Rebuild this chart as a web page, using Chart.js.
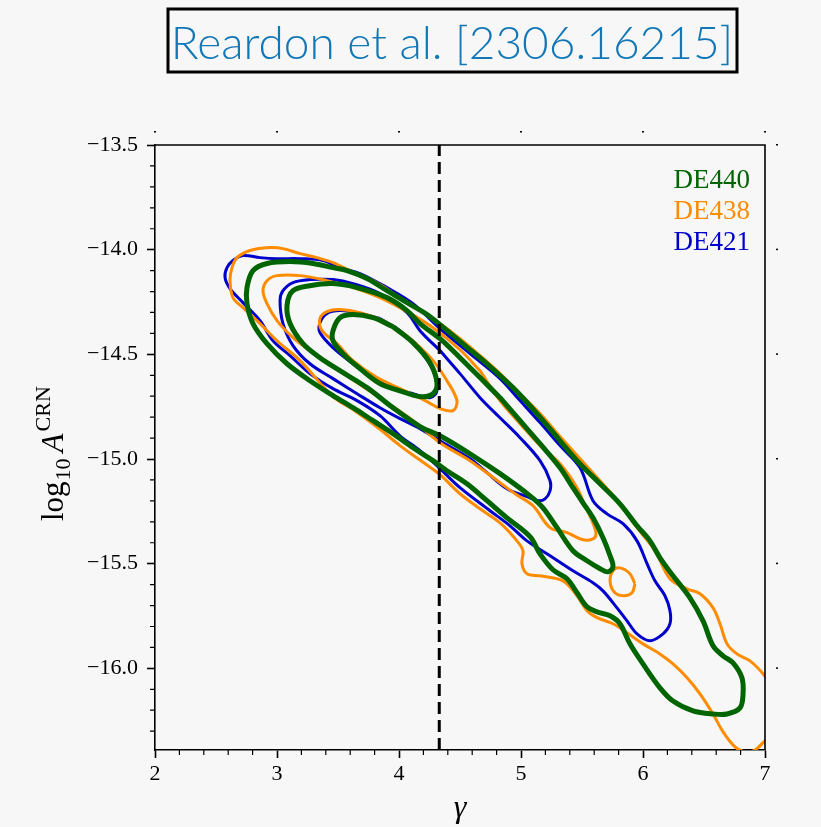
<!DOCTYPE html>
<html>
<head>
<meta charset="utf-8">
<script src="https://cdn.jsdelivr.net/npm/chart.js@4.4.1/dist/chart.umd.min.js"></script>
<style>
  body { margin: 0; background: #f7f7f7; }
  canvas { display: block; }
</style>
</head>
<body>
<canvas id="chart" width="821" height="827"></canvas>
<script>
// axis ranges and ticks
const xMin = 2, xMax = 7;
const yMin = -16.39, yMax = -13.5;
const xTicks = [2, 3, 4, 5, 6, 7];
const yTicks = [-16.0, -15.5, -15.0, -14.5, -14.0, -13.5];
const legendLabels = ['DE440', 'DE438', 'DE421'];
const refGamma = 4.33;

// contours, [gamma, log10 A]
const de440Outer = [[2.754,-14.181],[2.803,-14.100],[2.918,-14.066],[3.107,-14.057],[3.295,-14.066],[3.459,-14.086],[3.574,-14.100],[3.738,-14.138],[3.902,-14.196],[4.066,-14.253],[4.230,-14.310],[4.336,-14.358],[4.541,-14.458],[4.721,-14.545],[4.934,-14.659],[5.131,-14.783],[5.320,-14.913],[5.459,-15.008],[5.648,-15.118],[5.811,-15.214],[5.951,-15.319],[6.057,-15.391],[6.139,-15.472],[6.246,-15.558],[6.385,-15.663],[6.492,-15.773],[6.574,-15.892],[6.656,-15.940],[6.738,-15.974],[6.811,-16.045],[6.820,-16.122],[6.795,-16.189],[6.689,-16.218],[6.574,-16.218],[6.410,-16.203],[6.246,-16.156],[6.139,-16.093],[6.000,-15.979],[5.893,-15.883],[5.811,-15.787],[5.730,-15.749],[5.623,-15.730],[5.541,-15.706],[5.459,-15.639],[5.377,-15.572],[5.262,-15.529],[5.156,-15.453],[5.074,-15.371],[4.885,-15.281],[4.721,-15.199],[4.557,-15.118],[4.393,-15.056],[4.279,-15.008],[4.115,-14.946],[3.951,-14.879],[3.787,-14.817],[3.623,-14.755],[3.459,-14.697],[3.270,-14.626],[3.082,-14.545],[2.918,-14.449],[2.803,-14.353],[2.754,-14.258]];
const de440Middle = [[3.082,-14.267],[3.131,-14.196],[3.270,-14.172],[3.459,-14.162],[3.656,-14.181],[3.902,-14.229],[4.066,-14.291],[4.172,-14.353],[4.336,-14.425],[4.500,-14.516],[4.664,-14.611],[4.828,-14.707],[4.992,-14.817],[5.156,-14.927],[5.320,-15.042],[5.426,-15.137],[5.508,-15.209],[5.590,-15.281],[5.672,-15.376],[5.730,-15.462],[5.754,-15.515],[5.713,-15.539],[5.648,-15.524],[5.541,-15.486],[5.426,-15.438],[5.295,-15.328],[5.180,-15.233],[5.074,-15.176],[4.828,-15.070],[4.582,-14.975],[4.336,-14.889],[4.172,-14.845],[3.951,-14.755],[3.738,-14.659],[3.516,-14.578],[3.352,-14.516],[3.213,-14.449],[3.107,-14.353]];
const de440Inner = [[3.459,-14.387],[3.516,-14.325],[3.623,-14.310],[3.787,-14.325],[3.951,-14.368],[4.115,-14.444],[4.254,-14.540],[4.311,-14.635],[4.279,-14.688],[4.172,-14.702],[4.008,-14.674],[3.844,-14.640],[3.680,-14.568],[3.541,-14.497],[3.459,-14.435]];

const de438Outer = [[2.615,-14.148],[2.631,-14.086],[2.672,-14.038],[2.779,-14.004],[2.943,-13.990],[3.049,-13.995],[3.189,-14.019],[3.328,-14.038],[3.459,-14.062],[3.598,-14.100],[3.787,-14.148],[4.008,-14.229],[4.172,-14.291],[4.336,-14.353],[4.500,-14.425],[4.664,-14.506],[4.828,-14.592],[4.992,-14.688],[5.156,-14.783],[5.320,-14.893],[5.484,-14.999],[5.648,-15.104],[5.811,-15.214],[5.951,-15.328],[6.098,-15.438],[6.221,-15.572],[6.361,-15.620],[6.467,-15.644],[6.574,-15.711],[6.631,-15.787],[6.689,-15.883],[6.770,-15.931],[6.877,-15.964],[6.984,-16.026],[7.082,-16.108],[7.205,-16.155],[7.123,-16.289],[7.000,-16.346],[6.918,-16.390],[6.836,-16.399],[6.754,-16.375],[6.656,-16.303],[6.574,-16.218],[6.467,-16.122],[6.361,-16.045],[6.246,-15.979],[6.139,-15.931],[6.000,-15.883],[5.869,-15.830],[5.754,-15.787],[5.623,-15.758],[5.541,-15.725],[5.459,-15.653],[5.344,-15.582],[5.156,-15.558],[5.049,-15.548],[5.008,-15.500],[5.016,-15.438],[4.967,-15.391],[4.828,-15.305],[4.664,-15.238],[4.500,-15.166],[4.336,-15.075],[4.172,-15.005],[4.008,-14.936],[3.844,-14.858],[3.623,-14.764],[3.459,-14.702],[3.189,-14.530],[3.000,-14.435],[2.861,-14.353],[2.721,-14.277],[2.639,-14.229]];
const de438Middle = [[2.885,-14.196],[2.918,-14.148],[3.000,-14.124],[3.189,-14.124],[3.410,-14.148],[3.623,-14.181],[3.844,-14.229],[4.066,-14.296],[4.279,-14.373],[4.500,-14.478],[4.664,-14.578],[4.828,-14.721],[4.992,-14.831],[5.156,-14.936],[5.320,-15.023],[5.459,-15.137],[5.525,-15.223],[5.582,-15.295],[5.615,-15.357],[5.590,-15.381],[5.508,-15.386],[5.377,-15.352],[5.238,-15.328],[5.098,-15.223],[4.951,-15.166],[4.828,-15.113],[4.582,-15.008],[4.336,-14.922],[4.115,-14.817],[3.902,-14.731],[3.656,-14.635],[3.459,-14.554],[3.270,-14.482],[3.131,-14.420],[3.000,-14.339],[2.918,-14.258]];
const de438Inner = [[3.352,-14.329],[3.410,-14.296],[3.516,-14.286],[3.680,-14.301],[3.902,-14.349],[4.115,-14.435],[4.279,-14.530],[4.393,-14.626],[4.475,-14.721],[4.443,-14.769],[4.336,-14.759],[4.230,-14.726],[4.008,-14.664],[3.820,-14.611],[3.623,-14.530],[3.492,-14.449],[3.369,-14.387]];
const de438Island = [[5.811,-15.520],[5.893,-15.548],[5.934,-15.596],[5.910,-15.639],[5.836,-15.653],[5.762,-15.634],[5.730,-15.582],[5.754,-15.534]];

const de421Outer = [[2.574,-14.133],[2.590,-14.086],[2.639,-14.052],[2.721,-14.028],[2.861,-14.038],[3.000,-14.043],[3.189,-14.043],[3.377,-14.052],[3.516,-14.086],[3.680,-14.114],[3.902,-14.181],[4.115,-14.258],[4.336,-14.377],[4.582,-14.497],[4.828,-14.616],[4.992,-14.721],[5.156,-14.826],[5.320,-14.936],[5.484,-15.042],[5.590,-15.199],[5.705,-15.262],[5.836,-15.309],[5.951,-15.391],[6.033,-15.500],[6.098,-15.582],[6.180,-15.653],[6.221,-15.725],[6.221,-15.787],[6.164,-15.835],[6.057,-15.868],[5.951,-15.835],[5.869,-15.773],[5.787,-15.711],[5.672,-15.630],[5.590,-15.591],[5.426,-15.534],[5.238,-15.462],[5.049,-15.391],[4.910,-15.319],[4.746,-15.247],[4.500,-15.137],[4.336,-15.046],[4.172,-14.960],[4.008,-14.889],[3.844,-14.793],[3.656,-14.721],[3.459,-14.664],[3.270,-14.592],[3.107,-14.506],[2.967,-14.435],[2.861,-14.339],[2.721,-14.253],[2.615,-14.186]];
const de421Middle = [[3.025,-14.243],[3.049,-14.196],[3.131,-14.157],[3.270,-14.143],[3.459,-14.143],[3.623,-14.162],[3.844,-14.210],[4.066,-14.301],[4.172,-14.387],[4.336,-14.482],[4.500,-14.592],[4.664,-14.707],[4.828,-14.803],[4.992,-14.898],[5.156,-15.008],[5.238,-15.104],[5.238,-15.152],[5.197,-15.190],[5.139,-15.199],[5.049,-15.180],[4.885,-15.142],[4.721,-15.065],[4.582,-14.999],[4.336,-14.913],[4.172,-14.855],[4.008,-14.807],[3.844,-14.755],[3.656,-14.688],[3.459,-14.616],[3.270,-14.545],[3.131,-14.458],[3.049,-14.353]];
const de421Inner = [[3.352,-14.349],[3.410,-14.305],[3.516,-14.291],[3.656,-14.301],[3.844,-14.329],[4.008,-14.387],[4.172,-14.482],[4.279,-14.578],[4.311,-14.674],[4.254,-14.707],[4.115,-14.688],[3.951,-14.659],[3.787,-14.611],[3.623,-14.545],[3.459,-14.468],[3.352,-14.396]];

const green = '#006400', orange = '#ff8c00', blue = '#0000cd';
const serif = '"Liberation Serif", "Times New Roman", serif';

// start each loop on a flat stretch so the joint does not show a kink
function closeLoop(pts) {
    const k = Math.floor(pts.length * 0.3);
    const ring = pts.slice(k).concat(pts.slice(0, k));
    const d = ring.map(p => ({x: p[0], y: p[1]}));
    d.push(d[0]);
    return d;
}

function contour(pts, color, width, order) {
    return {
        data: closeLoop(pts),
        borderColor: color,
        borderWidth: width,
        showLine: true,
        pointRadius: 0,
        fill: false,
        tension: 0.35,
        borderJoinStyle: 'round',
        order: order
    };
}

const decorations = {
    id: 'decorations',
    afterDraw(chart) {
        const ctx = chart.ctx;
        const a = chart.chartArea;
        const sx = chart.scales.x, sy = chart.scales.y;
        ctx.save();

        // top and right frame
        ctx.strokeStyle = '#000';
        ctx.lineWidth = 1.6;
        ctx.beginPath();
        ctx.moveTo(a.left, a.top);
        ctx.lineTo(a.right, a.top);
        ctx.lineTo(a.right, a.bottom);
        ctx.stroke();

        // minor ticks
        ctx.lineWidth = 1.2;
        ctx.beginPath();
        for (let i = 1; i < 25; i++) {
            if (i % 5 === 0) continue;
            const px = sx.getPixelForValue(xMin + i * 0.2);
            ctx.moveTo(px, a.bottom);
            ctx.lineTo(px, a.bottom + 5);
        }
        for (let i = 1; i < 29; i++) {
            if (i % 5 === 0) continue;
            const v = -13.5 - i * 0.1;
            if (v < yMin) break;
            const py = sy.getPixelForValue(v);
            ctx.moveTo(a.left, py);
            ctx.lineTo(a.left - 5, py);
        }
        ctx.stroke();

        // faint marks outside top and right
        ctx.fillStyle = '#000';
        xTicks.forEach(v => {
            ctx.fillRect(sx.getPixelForValue(v) - 1, a.top - 14, 2, 1.5);
        });
        yTicks.forEach(v => {
            ctx.fillRect(a.right + 11, sy.getPixelForValue(v) - 1, 2, 1.5);
        });

        // title in a box
        const title = 'Reardon et al. [2306.16215]';
        ctx.font = '300 46px Lato';
        const w = ctx.measureText(title).width;
        const size = 46 * 562 / w;
        ctx.font = '300 ' + size.toFixed(1) + 'px Lato';
        ctx.fillStyle = '#1277b6';
        ctx.textAlign = 'center';
        ctx.textBaseline = 'alphabetic';
        ctx.fillText(title, 452, 59);
        ctx.strokeStyle = '#000';
        ctx.lineWidth = 3;
        ctx.strokeRect(168, 9, 569, 63);

        // legend text
        ctx.font = '27px ' + serif;
        ctx.textAlign = 'right';
        const legendColors = [green, orange, blue];
        legendLabels.forEach((t, i) => {
            ctx.fillStyle = legendColors[i];
            ctx.fillText(t, 750, 188 + i * 31);
        });

        // x axis title
        ctx.fillStyle = '#000';
        ctx.textAlign = 'center';
        ctx.font = 'italic 32px ' + serif;
        ctx.fillText('\u03b3', (a.left + a.right) / 2, 817);

        // y axis title: log10 A^CRN
        ctx.translate(63, 521);
        ctx.rotate(-Math.PI / 2);
        ctx.textAlign = 'left';
        let x = 0;
        ctx.font = '31px ' + serif;
        ctx.fillText('log', x, 0);
        x += ctx.measureText('log').width + 1;
        ctx.font = '22px ' + serif;
        ctx.fillText('10', x, 7);
        x += ctx.measureText('10').width + 6;
        ctx.font = 'italic 31px ' + serif;
        ctx.fillText('A', x, 0);
        x += ctx.measureText('A').width + 2;
        ctx.font = '22px ' + serif;
        ctx.fillText('CRN', x, -13);
        ctx.restore();
    }
};

new Chart(document.getElementById('chart'), {
    type: 'scatter',
    data: {
        datasets: [
            {
                data: [{x: refGamma, y: yMin}, {x: refGamma, y: yMax}],
                borderColor: '#000',
                borderWidth: 3,
                borderDash: [12, 6],
                showLine: true,
                pointRadius: 0,
                order: 0
            },
            contour(de440Outer, green, 5, 1),
            contour(de440Middle, green, 5, 1),
            contour(de440Inner, green, 5, 1),
            contour(de438Outer, orange, 3, 2),
            contour(de438Middle, orange, 3, 2),
            contour(de438Inner, orange, 3, 2),
            contour(de438Island, orange, 3, 2),
            contour(de421Outer, blue, 3, 3),
            contour(de421Middle, blue, 3, 3),
            contour(de421Inner, blue, 3, 3)
        ]
    },
    options: {
        responsive: false,
        animation: false,
        devicePixelRatio: 1,
        layout: { padding: { top: 145, right: 56, left: 0, bottom: 0 } },
        plugins: {
            legend: { display: false },
            tooltip: { enabled: false },
            title: { display: false }
        },
        scales: {
            x: {
                type: 'linear',
                min: xMin,
                max: xMax,
                afterBuildTicks: s => { s.ticks = xTicks.map(v => ({value: v})); },
                afterFit: s => { s.height = 77; },
                ticks: {
                    color: '#000',
                    font: { family: serif, size: 22 },
                    padding: 3,
                    autoSkip: false,
                    maxRotation: 0,
                    callback: v => String(v)
                },
                grid: { drawOnChartArea: false, color: '#000', tickLength: 8, tickWidth: 1.6 },
                border: { color: '#000', width: 1.6 }
            },
            y: {
                type: 'linear',
                min: yMin,
                max: yMax,
                afterBuildTicks: s => { s.ticks = yTicks.map(v => ({value: v})); },
                afterFit: s => { s.width = 155; },
                ticks: {
                    color: '#000',
                    font: { family: serif, size: 22 },
                    padding: 9,
                    autoSkip: false,
                    callback: v => (v < 0 ? '\u2212' : '') + Math.abs(v).toFixed(1)
                },
                grid: { drawOnChartArea: false, color: '#000', tickLength: 8, tickWidth: 1.6 },
                border: { color: '#000', width: 1.6 }
            }
        }
    },
    plugins: [decorations]
});
</script>
</body>
</html>
